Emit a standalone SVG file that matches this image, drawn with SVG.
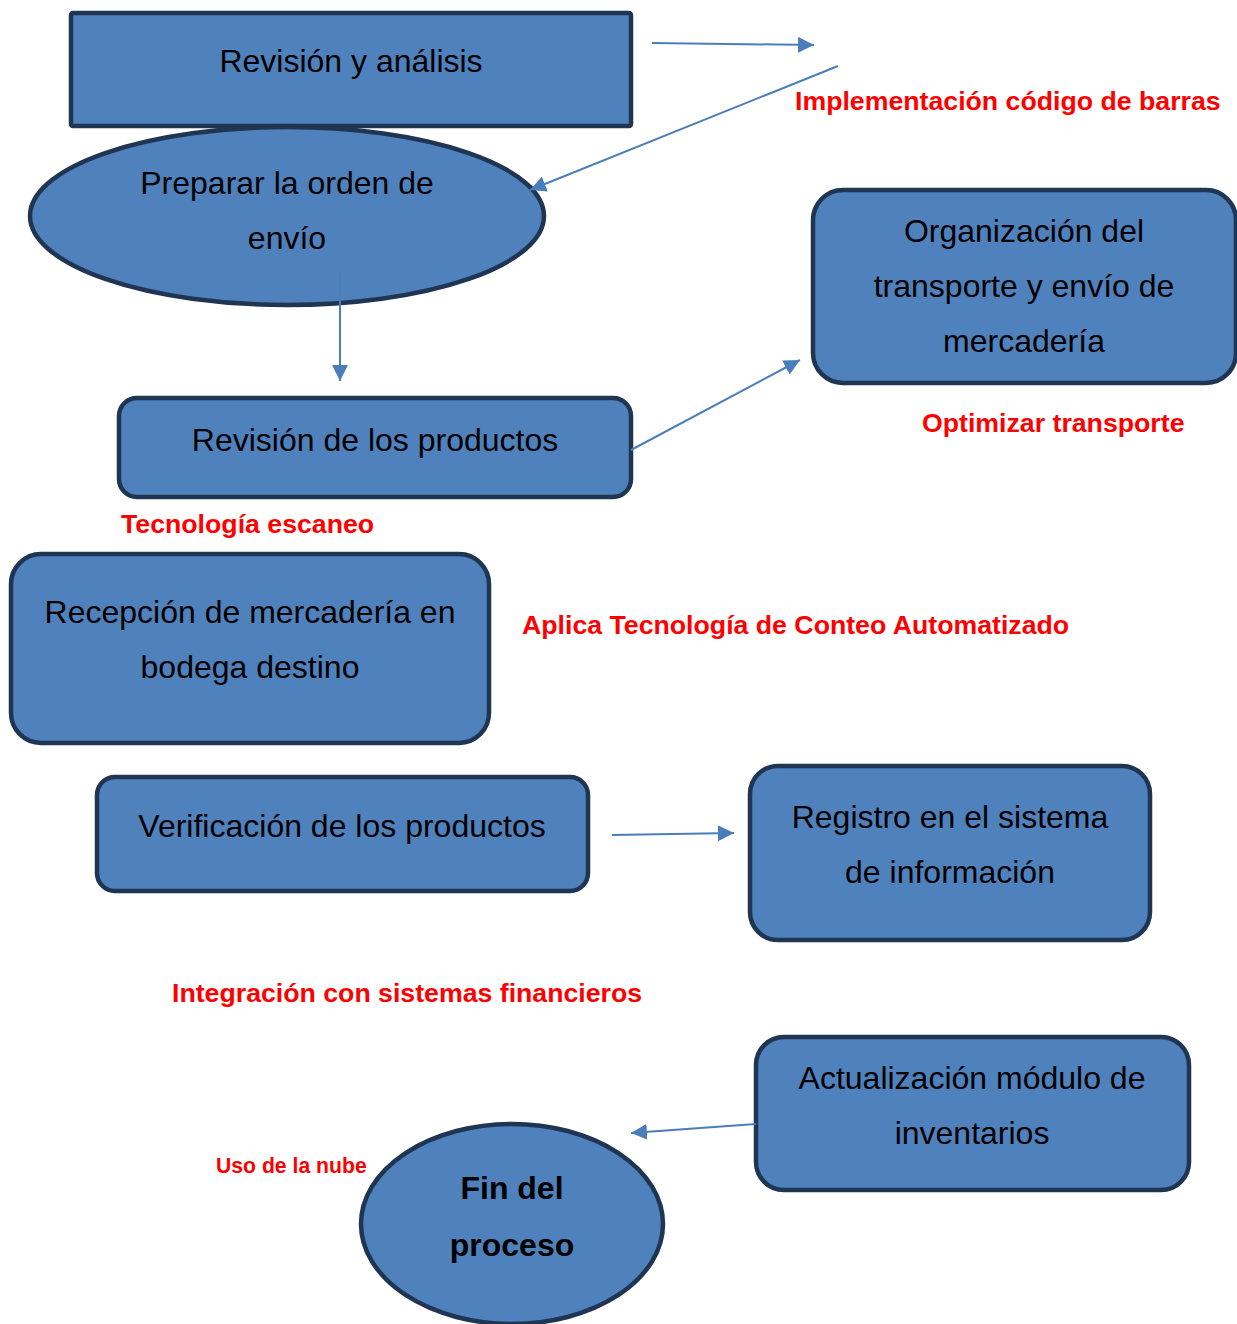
<svg xmlns="http://www.w3.org/2000/svg" width="1237" height="1324" viewBox="0 0 1237 1324">
<defs>
<style>
.node{fill:#4F81BD;stroke:#1F3552;stroke-width:4.5}
.t{font-family:"Liberation Sans",Arial,sans-serif;font-size:32px;fill:#000;text-anchor:middle}
.tb{font-family:"Liberation Sans",Arial,sans-serif;font-size:32px;font-weight:bold;fill:#000;text-anchor:middle}
.r{font-family:"Liberation Sans",Arial,sans-serif;font-size:26.7px;font-weight:bold;fill:#FF0000}
.rs{font-family:"Liberation Sans",Arial,sans-serif;font-size:21.2px;font-weight:bold;fill:#FF0000}
.c{stroke:#4A7EBB;stroke-width:2;fill:none;marker-end:url(#ah)}
</style>
<marker id="ah" markerUnits="userSpaceOnUse" markerWidth="17" markerHeight="16" refX="16" refY="8" orient="auto">
<path d="M0,0 L16,8 L0,16 z" fill="#4A7EBB"/>
</marker>
</defs>
<rect width="1237" height="1324" fill="#fff"/>
<g id="n1"><rect class="node" x="71" y="13" width="560" height="113" rx="2"/><text class="t" x="351" y="72">Revisión y análisis</text></g>
<g id="n2"><ellipse class="node" cx="287" cy="216" rx="257" ry="89"/><text class="t" x="287" y="194">Preparar la orden de</text><text class="t" x="287" y="249">envío</text></g>
<g id="n3"><rect class="node" x="813" y="190" width="423" height="193" rx="30"/><text class="t" x="1024" y="242">Organización del</text><text class="t" x="1024" y="297">transporte y envío de</text><text class="t" x="1024" y="352">mercadería</text></g>
<g id="n4"><rect class="node" x="119" y="398" width="512" height="99" rx="18"/><text class="t" x="375" y="451">Revisión de los productos</text></g>
<g id="n5"><rect class="node" x="11" y="554" width="478" height="189" rx="30"/><text class="t" x="250" y="623">Recepción de mercadería en</text><text class="t" x="250" y="678">bodega destino</text></g>
<g id="n6"><rect class="node" x="97" y="777" width="491" height="114" rx="18"/><text class="t" x="342" y="837">Verificación de los productos</text></g>
<g id="n7"><rect class="node" x="750" y="766" width="400" height="174" rx="28"/><text class="t" x="950" y="828">Registro en el sistema</text><text class="t" x="950" y="883">de información</text></g>
<g id="n8"><rect class="node" x="756" y="1037" width="433" height="153" rx="28"/><text class="t" x="972" y="1089">Actualización módulo de</text><text class="t" x="972" y="1144">inventarios</text></g>
<g id="n9"><ellipse class="node" cx="512" cy="1224" rx="151" ry="100"/><text class="tb" x="512" y="1199">Fin del</text><text class="tb" x="512" y="1256">proceso</text></g>
<g id="labels">
<text class="r" x="795" y="110">Implementación código de barras</text>
<text class="r" x="922" y="432">Optimizar transporte</text>
<text class="r" x="121" y="533">Tecnología escaneo</text>
<text class="r" x="522" y="634">Aplica Tecnología de Conteo Automatizado</text>
<text class="r" x="172" y="1002">Integración con sistemas financieros</text>
<text class="rs" x="216" y="1173">Uso de la nube</text>
</g>
<g id="connectors">
<line class="c" x1="652" y1="43" x2="814" y2="45"/>
<line class="c" x1="838" y1="66" x2="530" y2="190"/>
<line class="c" x1="340" y1="272" x2="340" y2="381"/>
<line class="c" x1="631" y1="450" x2="800" y2="360"/>
<line class="c" x1="612" y1="835" x2="734" y2="833"/>
<line class="c" x1="756" y1="1124" x2="631" y2="1133"/>
</g>
</svg>
